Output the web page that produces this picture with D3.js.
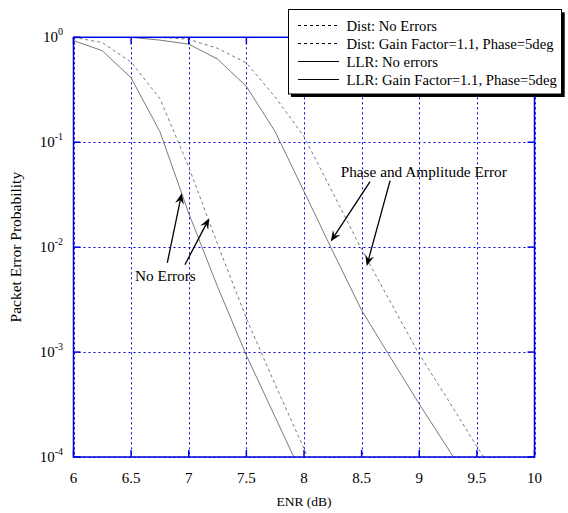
<!DOCTYPE html>
<html>
<head>
<meta charset="utf-8">
<script src="https://cdn.jsdelivr.net/npm/d3@7"></script>
<style>
  body { margin: 0; background: #fff; }
  svg { display: block; font-family: "Liberation Serif", "DejaVu Serif", serif; }
</style>
</head>
<body>
<svg id="chart" width="568" height="513"></svg>
<script>
// ENR points (dB) and packet error probabilities
var enr_dist_noerr = [6, 6.25, 6.5, 6.75, 7, 7.25, 7.5, 7.75, 8, 8.25];
var dist_noerr     = [1.0, 0.89, 0.58, 0.26, 0.058, 0.0107, 0.0021, 4.9e-4, 1.2e-4, 3.0e-5];

var enr_llr_noerr  = [6, 6.25, 6.5, 6.75, 7, 7.25, 7.5, 7.75, 8];
var llr_noerr      = [0.93, 0.745, 0.41, 0.126, 0.021, 0.0042, 9.3e-4, 2.4e-4, 6.2e-5];

var enr_dist_err   = [6, 6.25, 6.5, 6.75, 7, 7.25, 7.5, 7.75, 8, 8.25, 8.5, 8.75, 9, 9.25, 9.5, 9.75];
var dist_err       = [1.0, 1.0, 1.0, 1.0, 0.957, 0.785, 0.57, 0.27, 0.113, 0.033, 0.0095, 0.003, 9.5e-4, 3.5e-4, 1.26e-4, 4.7e-5];

var enr_llr_err    = [6, 6.25, 6.5, 6.75, 7, 7.25, 7.5, 7.75, 8, 8.25, 8.5, 8.75, 9, 9.25, 9.5];
var llr_err        = [1.0, 1.0, 1.0, 0.94, 0.86, 0.62, 0.34, 0.126, 0.034, 0.0091, 0.0025, 8.9e-4, 3.2e-4, 1.2e-4, 4.3e-5];

var legend_labels = [
    'Dist: No Errors',
    'Dist: Gain Factor=1.1, Phase=5deg',
    'LLR: No errors',
    'LLR: Gain Factor=1.1, Phase=5deg'
];
var x_ticks = [6, 6.5, 7, 7.5, 8, 8.5, 9, 9.5, 10];
var y_exps  = [0, -1, -2, -3, -4];

// annotation arrows: [from enr, from pe, to enr, to pe]
var arrows_noerr = [[6.814, 7.1e-3, 6.939, 0.0327], [6.967, 6.8e-3, 7.178, 0.0189]];
var arrows_phase = [[8.573, 0.0422, 8.232, 0.0113], [8.747, 0.0431, 8.544, 6.6e-3]];

var series = [
    { x: enr_dist_noerr, y: dist_noerr, dashed: true },
    { x: enr_dist_err,   y: dist_err,   dashed: true },
    { x: enr_llr_noerr,  y: llr_noerr,  dashed: false },
    { x: enr_llr_err,    y: llr_err,    dashed: false }
];

var margin = { left: 73.5, top: 37.3, right: 534.5, bottom: 457 };
var blue = '#0000e0';

var svg = d3.select('#chart');

var x = d3.scaleLinear().domain([6, 10]).range([margin.left, margin.right]);
var y = d3.scaleLog().domain([1e-4, 1]).range([margin.bottom, margin.top]);

svg.append('defs').append('clipPath').attr('id', 'plotclip')
    .append('rect')
    .attr('x', margin.left).attr('y', margin.top)
    .attr('width', margin.right - margin.left)
    .attr('height', margin.bottom - margin.top);

// grid
var grid = svg.append('g')
    .attr('stroke', blue)
    .attr('stroke-width', 1)
    .attr('stroke-dasharray', '2,3');
grid.selectAll('line.gx').data(x_ticks).join('line')
    .attr('x1', d => Math.round(x(d)) + 0.5).attr('x2', d => Math.round(x(d)) + 0.5)
    .attr('y1', margin.top).attr('y2', margin.bottom);
grid.selectAll('line.gy').data(y_exps).join('line')
    .attr('y1', d => Math.round(y(Math.pow(10, d))) + 0.5)
    .attr('y2', d => Math.round(y(Math.pow(10, d))) + 0.5)
    .attr('x1', margin.left).attr('x2', margin.right);

// curves
var line = d3.line()
    .x(d => x(d[0]))
    .y(d => y(d[1]));

svg.append('g')
    .attr('clip-path', 'url(#plotclip)')
    .selectAll('path')
    .data(series)
    .join('path')
    .attr('fill', 'none')
    .attr('stroke', '#7a7a7a')
    .attr('stroke-width', 1)
    .attr('stroke-dasharray', d => d.dashed ? '3,3' : null)
    .attr('d', d => line(d.x.map((v, i) => [v, d.y[i]])));

// axis box and inward ticks
var axes = svg.append('g').attr('stroke', blue).attr('stroke-width', 1.5).attr('fill', 'none');
axes.append('rect')
    .attr('x', margin.left).attr('y', margin.top)
    .attr('width', margin.right - margin.left)
    .attr('height', margin.bottom - margin.top);
var tl = 7;
x_ticks.forEach(function(t) {
    axes.append('line').attr('x1', x(t)).attr('x2', x(t))
        .attr('y1', margin.bottom).attr('y2', margin.bottom - tl);
    axes.append('line').attr('x1', x(t)).attr('x2', x(t))
        .attr('y1', margin.top).attr('y2', margin.top + tl);
});
y_exps.forEach(function(e) {
    var yy = y(Math.pow(10, e));
    axes.append('line').attr('x1', margin.left).attr('x2', margin.left + tl)
        .attr('y1', yy).attr('y2', yy);
    axes.append('line').attr('x1', margin.right).attr('x2', margin.right - tl)
        .attr('y1', yy).attr('y2', yy);
});

// tick labels
svg.append('g')
    .attr('font-size', 15)
    .attr('text-anchor', 'middle')
    .selectAll('text')
    .data(x_ticks)
    .join('text')
    .attr('x', d => x(d))
    .attr('y', 483)
    .text(d => d);

var ylab = svg.append('g')
    .attr('font-size', 15)
    .attr('text-anchor', 'end')
    .selectAll('text')
    .data(y_exps)
    .join('text')
    .attr('x', 63)
    .attr('y', d => y(Math.pow(10, d)) + 5);
ylab.append('tspan').text('10');
ylab.append('tspan')
    .attr('font-size', 10)
    .attr('dy', -7)
    .text(d => d);

// axis titles
svg.append('text')
    .attr('x', x(8)).attr('y', 506)
    .attr('text-anchor', 'middle')
    .attr('font-size', 13.5)
    .text('ENR (dB)');
svg.append('text')
    .attr('transform', 'translate(21,' + ((margin.top + margin.bottom) / 2) + ') rotate(-90)')
    .attr('text-anchor', 'middle')
    .attr('font-size', 15.5)
    .text('Packet Error Probability');

// annotations
function arrow(g, a) {
    var x0 = x(a[0]), y0 = y(a[1]), x1 = x(a[2]), y1 = y(a[3]);
    var ang = Math.atan2(y1 - y0, x1 - x0);
    var L = 11, W = 4.5, notch = 7;
    var bx = x1 - L * Math.cos(ang), by = y1 - L * Math.sin(ang);
    var nx = x1 - notch * Math.cos(ang), ny = y1 - notch * Math.sin(ang);
    var px = -Math.sin(ang) * W, py = Math.cos(ang) * W;
    g.append('line')
        .attr('x1', x0).attr('y1', y0).attr('x2', nx).attr('y2', ny)
        .attr('stroke', '#000').attr('stroke-width', 1.3);
    g.append('path')
        .attr('d', 'M' + x1 + ',' + y1 + 'L' + (bx + px) + ',' + (by + py) +
              'L' + nx + ',' + ny + 'L' + (bx - px) + ',' + (by - py) + 'Z')
        .attr('fill', '#000');
}
var ann = svg.append('g');
arrows_noerr.forEach(a => arrow(ann, a));
arrows_phase.forEach(a => arrow(ann, a));
ann.append('text')
    .attr('x', x(6.534)).attr('y', y(4.78e-3))
    .attr('font-size', 15.3)
    .text('No Errors');
ann.append('text')
    .attr('x', x(8.318)).attr('y', y(0.0468))
    .attr('font-size', 15.3)
    .text('Phase and Amplitude Error');

// legend
var lg = svg.append('g');
lg.append('rect')
    .attr('x', 291).attr('y', 12.3).attr('width', 273.7).attr('height', 84.7)
    .attr('fill', '#000');
lg.append('rect')
    .attr('x', 288.5).attr('y', 9.5).attr('width', 273).attr('height', 84.5)
    .attr('fill', '#fff').attr('stroke', '#000').attr('stroke-width', 1);
var rows = lg.selectAll('g.row')
    .data(legend_labels)
    .join('g')
    .attr('transform', (d, i) => 'translate(0,' + (25.5 + i * 18) + ')');
rows.append('line')
    .attr('x1', 298).attr('x2', 339)
    .attr('stroke', '#000').attr('stroke-width', 1)
    .attr('stroke-dasharray', (d, i) => series[i].dashed ? '3,3' : null);
rows.append('text')
    .attr('x', 346.5).attr('y', 5)
    .attr('font-size', 14.7)
    .text(d => d);
</script>
</body>
</html>
